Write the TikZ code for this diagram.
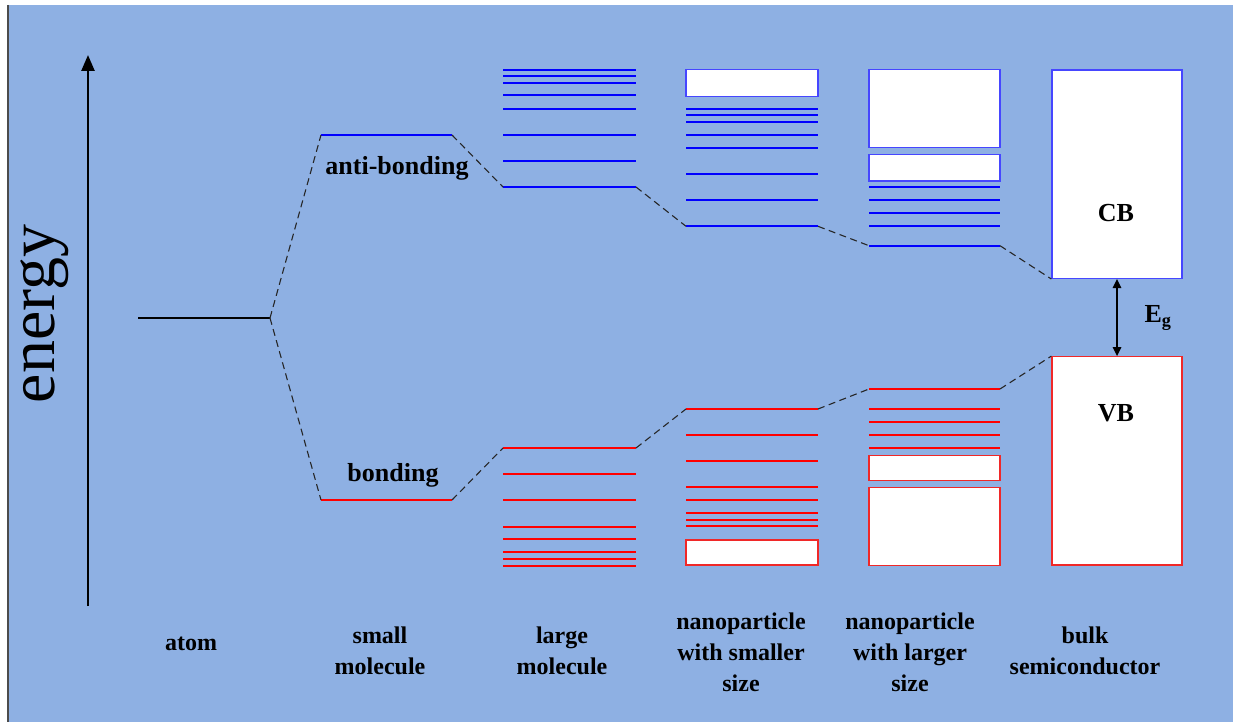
\documentclass[tikz,border=0pt]{standalone}
\usepackage{fontspec}
\setmainfont{Liberation Serif}
\usetikzlibrary{arrows.meta}
\definecolor{bgblue}{RGB}{142,176,227}
\definecolor{lvlblue}{RGB}{0,0,255}
\definecolor{lvlred}{RGB}{255,0,0}
\definecolor{boxblue}{RGB}{70,70,255}
\definecolor{boxred}{RGB}{240,40,40}
\tikzset{
  cblevel/.style={draw=lvlblue, line width=2pt},
  vblevel/.style={draw=lvlred, line width=2pt},
  cbband/.style={draw=boxblue, fill=white, line width=1.3pt},
  vbband/.style={draw=boxred, fill=white, line width=1.3pt},
  corr/.style={dash pattern=on 7pt off 4.5pt, line width=1.1pt, black!85},
  lbl/.style={font=\bfseries\fontsize{24}{31}\selectfont, align=center, inner sep=0pt},
  lvllbl/.style={font=\bfseries\fontsize{26}{31}\selectfont, inner sep=0pt},
}
\begin{document}
\begin{tikzpicture}[x=1pt,y=-1pt]
\useasboundingbox (0,0) rectangle (1233,722);
\fill[white] (0,0) rectangle (1233,722);
\fill[bgblue] (9,5) rectangle (1233,722);
\draw[gray!60!black, line width=1.2pt] (8,5) -- (8,722);

% energy axis
\coordinate (eBot) at (88,606);
\coordinate (eTop) at (88,55);
\draw[line width=2.5pt, -{Triangle[length=16pt,width=13pt]}] (eBot) -- (eTop);
\node[rotate=90, anchor=base, font=\fontsize{66}{66}\selectfont, inner sep=0pt] (energylbl) at (54,314) {energy};

% atom
\coordinate (atomL) at (138,318);
\coordinate (atomR) at (270,318);
\draw[black, line width=1.8pt] (atomL) -- (atomR);

% small molecule
\coordinate (smaL) at (321,135); \coordinate (smaR) at (452,135);
\coordinate (smbL) at (321,500); \coordinate (smbR) at (452,500);
\draw[cblevel] (smaL) -- (smaR);
\draw[vblevel] (smbL) -- (smbR);

% large molecule
\foreach \y in {69.7,76,82.7,95.3,108.7,135,161}
  \draw[cblevel] (503,\y) -- (636,\y);
\coordinate (lmaL) at (503,187); \coordinate (lmaR) at (636,187);
\draw[cblevel] (lmaL) -- (lmaR);
\foreach \y in {473.7,500.3,526.7,539.3,552.3,558.7,565.7}
  \draw[vblevel] (503,\y) -- (636,\y);
\coordinate (lmbL) at (503,448); \coordinate (lmbR) at (636,448);
\draw[vblevel] (lmbL) -- (lmbR);

% nanoparticle, smaller size
\draw[cbband] (686,69.7) rectangle (818,96.3);
\foreach \y in {108.7,115.3,122,135,148,174,200}
  \draw[cblevel] (686,\y) -- (818,\y);
\coordinate (npsaL) at (686,226.3); \coordinate (npsaR) at (818,226.3);
\draw[cblevel] (npsaL) -- (npsaR);
\coordinate (npsbL) at (686,409); \coordinate (npsbR) at (818,409);
\draw[vblevel] (npsbL) -- (npsbR);
\foreach \y in {434.7,461,487.3,500,513,519.7,526.3}
  \draw[vblevel] (686,\y) -- (818,\y);
\draw[vbband] (686,540) rectangle (818,565);

% nanoparticle, larger size
\draw[cbband] (869,69.7) rectangle (1000,147.3);
\draw[cbband] (869,154.3) rectangle (1000,181);
\foreach \y in {187.3,200,213.3,226.3}
  \draw[cblevel] (869,\y) -- (1000,\y);
\coordinate (nplaL) at (869,245.7); \coordinate (nplaR) at (1000,245.7);
\draw[cblevel] (nplaL) -- (nplaR);
\coordinate (nplbL) at (869,389); \coordinate (nplbR) at (1000,389);
\draw[vblevel] (nplbL) -- (nplbR);
\foreach \y in {409,422.3,435,448}
  \draw[vblevel] (869,\y) -- (1000,\y);
\draw[vbband] (869,455.3) rectangle (1000,480.3);
\draw[vbband] (869,487.3) rectangle (1000,565.3);

% bulk semiconductor
\node[cbband, minimum width=130pt, minimum height=208.3pt, inner sep=0pt] (cbbulk) at (1117,174.2) {};
\node[vbband, minimum width=130pt, minimum height=208.3pt, inner sep=0pt] (vbbulk) at (1117,460.9) {};
\node[lvllbl] (cblbl) at (1116,213) {CB};
\node[lvllbl] (vblbl) at (1116,413) {VB};
\draw[line width=1.4pt, {Triangle[length=9pt,width=8.5pt]}-{Triangle[length=9pt,width=8.5pt]}] (cbbulk.south) -- (vbbulk.north);
\node[font=\bfseries\fontsize{26}{26}\selectfont, inner sep=0pt] (eglbl) at (1158,318) {E\textsubscript{g}};

% correlation lines
\draw[corr] (atomR) -- (smaL);
\draw[corr] (atomR) -- (smbL);
\draw[corr] (smaR) -- (lmaL);
\draw[corr] (smbR) -- (lmbL);
\draw[corr] (lmaR) -- (npsaL);
\draw[corr] (lmbR) -- (npsbL);
\draw[corr] (npsaR) -- (nplaL);
\draw[corr] (npsbR) -- (nplbL);
\draw[corr] (nplaR) -- (cbbulk.south west);
\draw[corr] (nplbR) -- (vbbulk.north west);

% level labels
\node[lvllbl] (ablbl) at (397,168) {anti-bonding};
\node[lvllbl] (blbl) at (393,475) {bonding};

% column labels
\node[lbl] (c1) at (191,644) {atom};
\node[lbl] (c2) at (380,650.5) {small\\molecule};
\node[lbl] (c3) at (562,650.5) {large\\molecule};
\node[lbl] (c4) at (741,652.5) {nanoparticle\\with smaller\\size};
\node[lbl] (c5) at (910,652.5) {nanoparticle\\with larger\\size};
\node[lbl] (c6) at (1085,650.5) {bulk\\semiconductor};
\end{tikzpicture}
\end{document}
